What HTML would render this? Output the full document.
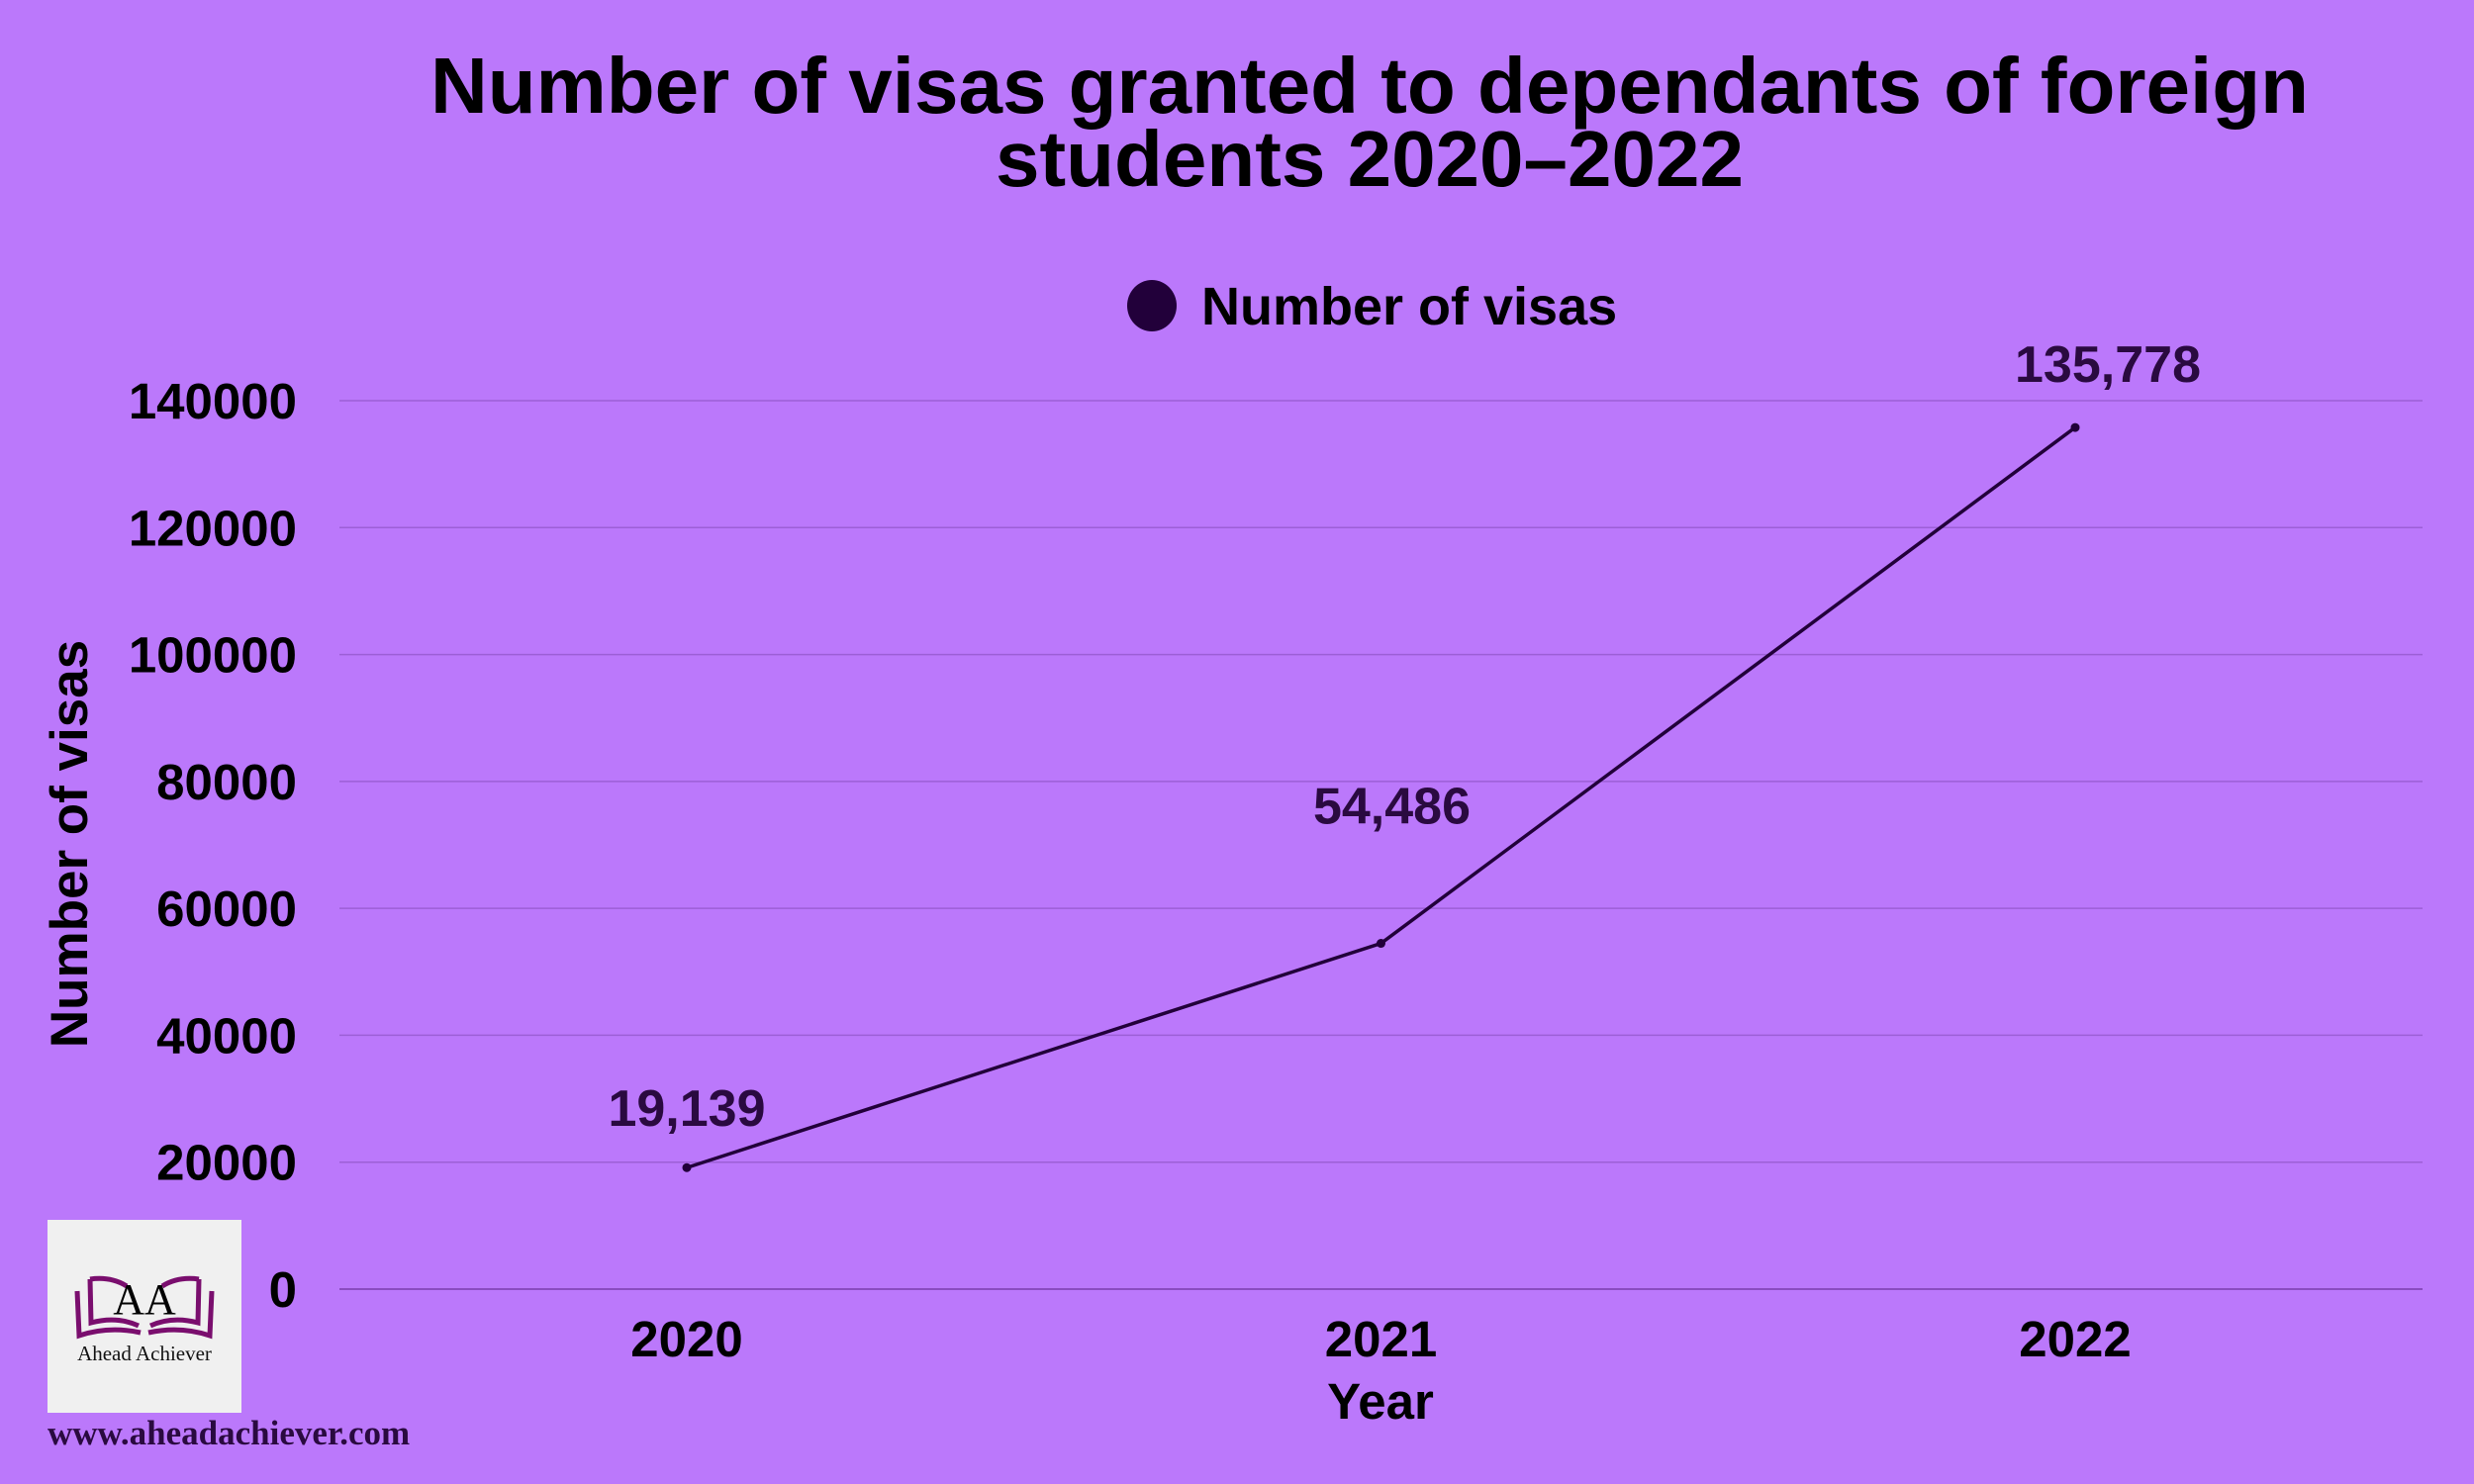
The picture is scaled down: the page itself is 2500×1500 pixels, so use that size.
<!DOCTYPE html>
<html><head><meta charset="utf-8"><style>
body{margin:0;width:2500px;height:1500px;background:#bb78fb;overflow:hidden}
svg{display:block}
text{font-family:"Liberation Sans",Arial,sans-serif;font-weight:bold}
</style></head><body>
<svg id="chart" width="2500" height="1500" viewBox="0 0 2500 1500">
<rect width="2500" height="1500" fill="#bb78fb"/>
<text x="1384" y="114" font-size="80" text-anchor="middle" fill="#000">Number of visas granted to dependants of foreign</text>
<text x="1384" y="188" font-size="80" text-anchor="middle" fill="#000">students 2020–2022</text>
<g>
<ellipse cx="1164" cy="309" rx="25" ry="26" fill="#22003a"/>
<text x="1214" y="328" font-size="54" fill="#000">Number of visas</text>
</g>
<g id="grid"></g><g id="yticks"></g><g id="xticks"></g>
<text transform="translate(88,853) rotate(-90)" font-size="53" text-anchor="middle" fill="#000">Number of visas</text>
<text x="1395" y="1434" font-size="51" text-anchor="middle" fill="#000">Year</text>
<g id="series"></g>
<g>
<rect x="48" y="1233" width="196" height="195" fill="#f0f0f0"/>
<g fill="none" stroke="#7a0e6e" stroke-width="5">
<path d="M78 1305 L80 1350 Q110 1340 142 1347"/>
<path d="M214 1305 L212 1350 Q182 1340 150 1347"/>
<path d="M91 1293 L92 1337 Q118 1330 140 1340"/>
<path d="M201 1293 L200 1337 Q174 1330 152 1340"/>
<path d="M91 1293 Q112 1290 128 1300"/>
<path d="M201 1293 Q180 1290 164 1300"/>
</g>
<text x="146" y="1328" font-size="44" text-anchor="middle" fill="#000" style="font-family:'Liberation Serif',serif;font-weight:normal">AA</text>
<text x="146" y="1375" font-size="21" text-anchor="middle" fill="#111" style="font-family:'Liberation Serif',serif;font-weight:normal">Ahead Achiever</text>
</g>
<text x="48" y="1460" font-size="35" fill="#2a0a40" style="font-family:'Liberation Serif',serif">www.aheadachiever.com</text>
</svg>
<script>
const categories=["2020","2021","2022"];
const values=[19139,54486,135778];
const valueLabels=["19,139","54,486","135,778"];
const yTicks=[0,20000,40000,60000,80000,100000,120000,140000];
const NS="http://www.w3.org/2000/svg";
const x0=343,x1=2448,yBase=1303,yTop=405,yMax=140000;
function xs(i){return 694+i*(2097-694)/(categories.length-1);}
function ys(v){return yBase-(v/yMax)*(yBase-yTop);}
function mk(tag,attrs,parent){const e=document.createElementNS(NS,tag);for(const k in attrs)e.setAttribute(k,attrs[k]);document.getElementById(parent).appendChild(e);return e;}
yTicks.forEach(t=>{
 const l=mk('line',{x1:x0,x2:x1,y1:ys(t),y2:ys(t),stroke:t===0?'#8a4cc0':'#9c5fd6','stroke-width':t===0?2:1.5},'grid');
 
 
 const tx=mk('text',{x:300,y:ys(t)+18,'font-size':51,'text-anchor':'end',fill:'#000'},'yticks');
 tx.textContent=String(t);
 
 
});
categories.forEach((c,i)=>{
 const tx=mk('text',{x:xs(i),y:1371,'font-size':51,'text-anchor':'middle',fill:'#000'},'xticks');
 tx.textContent=c;
 
 
});
const pl=mk('polyline',{points:values.map((v,i)=>xs(i)+','+ys(v)).join(' '),fill:'none',stroke:'#22003a','stroke-width':3.5},'series');


const lblOff=[[0,-42],[11,-121],[33,-46]];
values.forEach((v,i)=>{
 const d=mk('circle',{cx:xs(i),cy:ys(v),r:4.5,fill:'#22003a'},'series');
 
 
 const t=mk('text',{x:xs(i)+lblOff[i][0],y:ys(v)+lblOff[i][1],'font-size':52,'text-anchor':'middle',fill:'#2a0a40'},'series');
 t.textContent=valueLabels[i];
 
 
});
</script>
</body></html>
